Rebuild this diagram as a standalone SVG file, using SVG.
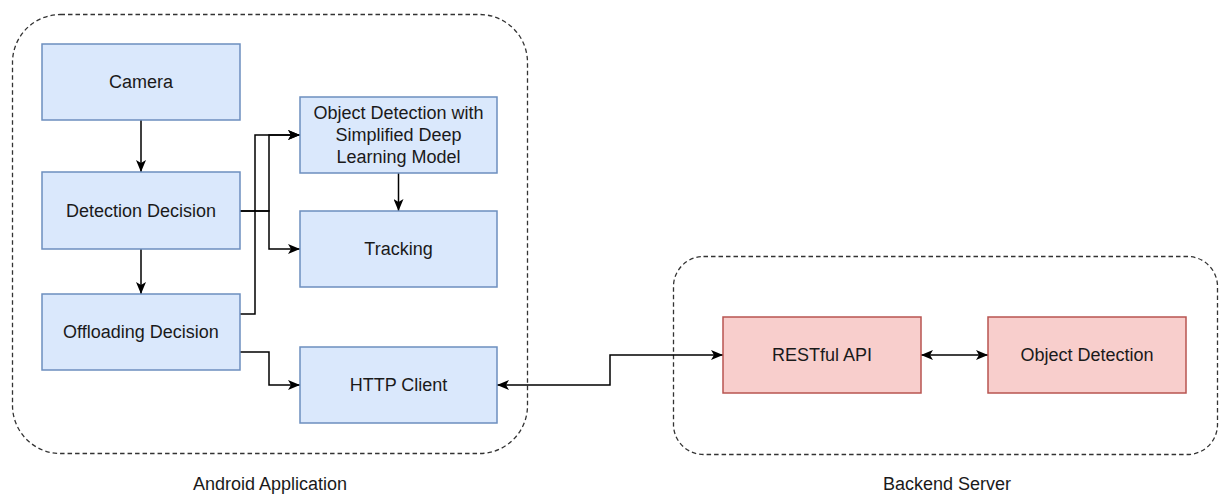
<svg xmlns="http://www.w3.org/2000/svg" width="1220" height="496" viewBox="0 0 1220 496">
  <style>
    text { font-family: "Liberation Sans", Arial, sans-serif; font-size: 18px; fill: #1a1a1a; text-anchor: middle; }
    .blue { fill: #dae8fc; stroke: #6c8ebf; stroke-width: 1.5; }
    .red { fill: #f8cecc; stroke: #b85450; stroke-width: 1.5; }
    .group { fill: none; stroke: #333; stroke-width: 1.3; stroke-dasharray: 4.5 3; }
    .edge { fill: none; stroke: #000; stroke-width: 1.5; }
  </style>
  <defs>
    <marker id="arrow" viewBox="0 0 12 10" refX="12" refY="5" markerWidth="12" markerHeight="10" markerUnits="userSpaceOnUse" orient="auto-start-reverse">
      <path d="M0,0 L12,5 L0,10 L3,5 Z" fill="#000"/>
    </marker>
  </defs>

  <rect id="white-bg" x="0" y="0" width="1220" height="496" fill="#fff"/>

  <!-- containers -->
  <g id="android-app">
    <rect class="group" x="12.5" y="14.5" width="515" height="439" rx="48" ry="48"/>
    <text x="270" y="490">Android Application</text>
  </g>
  <g id="backend-server">
    <rect class="group" x="673.5" y="256.5" width="544" height="198" rx="30" ry="30"/>
    <text x="947" y="490">Backend Server</text>
  </g>

  <!-- connectors -->
  <g id="connectors">
    <path class="edge" d="M141,120 V172" marker-end="url(#arrow)"/>
    <path class="edge" d="M141,249 V294" marker-end="url(#arrow)"/>
    <path class="edge" d="M240,211 H269 V135 H300" marker-end="url(#arrow)"/>
    <path class="edge" d="M240,211 H269 V249 H300" marker-end="url(#arrow)"/>
    <path class="edge" d="M240,314 H255 V135 H300" marker-end="url(#arrow)"/>
    <path class="edge" d="M240,352 H269 V385 H300" marker-end="url(#arrow)"/>
    <path class="edge" d="M398.5,173 V211" marker-end="url(#arrow)"/>
    <path class="edge" d="M497,385 H610 V355 H723" marker-start="url(#arrow)" marker-end="url(#arrow)"/>
    <path class="edge" d="M921,355 H988" marker-start="url(#arrow)" marker-end="url(#arrow)"/>
  </g>

  <!-- mobile-side nodes -->
  <g id="camera">
    <rect class="blue" x="42" y="44" width="198" height="76"/>
    <text x="141" y="88">Camera</text>
  </g>
  <g id="detection-decision">
    <rect class="blue" x="42" y="172" width="198" height="77"/>
    <text x="141" y="217">Detection Decision</text>
  </g>
  <g id="offloading-decision">
    <rect class="blue" x="42" y="294" width="198" height="76"/>
    <text x="141" y="338">Offloading Decision</text>
  </g>
  <g id="object-detection-local">
    <rect class="blue" x="300" y="97" width="197" height="76"/>
    <text x="398.5" y="119">Object Detection with</text>
    <text x="398.5" y="141">Simplified Deep</text>
    <text x="398.5" y="163">Learning Model</text>
  </g>
  <g id="tracking">
    <rect class="blue" x="300" y="211" width="197" height="76"/>
    <text x="398.5" y="255">Tracking</text>
  </g>
  <g id="http-client">
    <rect class="blue" x="300" y="347" width="197" height="76"/>
    <text x="398.5" y="391">HTTP Client</text>
  </g>

  <!-- server-side nodes -->
  <g id="restful-api">
    <rect class="red" x="723" y="317" width="198" height="76"/>
    <text x="822" y="361">RESTful API</text>
  </g>
  <g id="object-detection-server">
    <rect class="red" x="988" y="317" width="198" height="76"/>
    <text x="1087" y="361">Object Detection</text>
  </g>
</svg>
